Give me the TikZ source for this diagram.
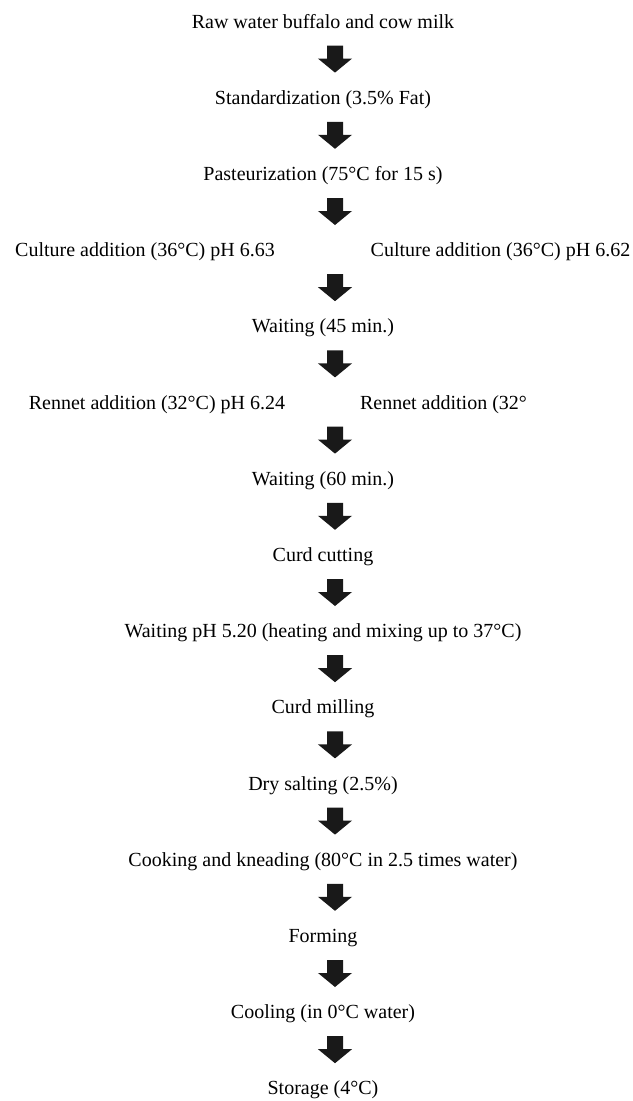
\documentclass[tikz,border=0pt]{standalone}
\usepackage{fontspec}
\setmainfont{Liberation Serif}
\usetikzlibrary{calc}
\usetikzlibrary{positioning}
\definecolor{arrowgray}{rgb}{0.1,0.1,0.1}

\begin{document}
\begin{tikzpicture}[on grid, node distance=38.1bp,
    stepnode/.style={inner sep=0pt, text height=7bp, text depth=2bp,
      font=\fontsize{10bp}{12bp}\selectfont},
    downarrow/.style={fill=arrowgray}]
  \useasboundingbox (-161.5bp,11.5bp) rectangle (155bp,-539bp);
  \node[stepnode] (raw) at (0,0) {Raw water buffalo and cow milk};
  \node[stepnode, below=of raw] (std) {Standardization (3.5\% Fat)};
  \node[stepnode, below=of std] (past) {Pasteurization (75°C for 15 s)};
  \coordinate[below=of past] (cult);
  \node[stepnode, left=89bp of cult, anchor=center] (cultL) {Culture addition (36°C) pH 6.63};
  \node[stepnode, right=88.75bp of cult, anchor=center] (cultR) {Culture addition (36°C) pH 6.62};
  \node[stepnode, below=of cult, anchor=center] (wait1) {Waiting (45 min.)};
  \coordinate[below=of wait1] (renn);
  \node[stepnode, left=83bp of renn, anchor=center] (rennL) {Rennet addition (32°C) pH 6.24};
  \node[stepnode, right=60.25bp of renn, anchor=center] (rennR) {Rennet addition (32°};
  \node[stepnode, below=of renn, anchor=center] (wait2) {Waiting (60 min.)};
  \node[stepnode, below=of wait2] (cut) {Curd cutting};
  \node[stepnode, below=of cut] (waitph) {Waiting pH 5.20 (heating and mixing up to 37°C)};
  \node[stepnode, below=of waitph] (mill) {Curd milling};
  \node[stepnode, below=of mill] (salt) {Dry salting (2.5\%)};
  \node[stepnode, below=of salt] (cook) {Cooking and kneading (80°C in 2.5 times water)};
  \node[stepnode, below=of cook] (form) {Forming};
  \node[stepnode, below=of form] (cool) {Cooling (in 0°C water)};
  \node[stepnode, below=of cool] (store) {Storage (4°C)};
  % block arrows between the steps
  \foreach \a/\b in {raw/std, std/past, past/cult, cult/wait1, wait1/renn,
      renn/wait2, wait2/cut, cut/waitph, waitph/mill, mill/salt,
      salt/cook, cook/form, form/cool, cool/store}
    \fill[downarrow, shift={($(\a)!.5!(\b)$)}] (2bp,7.75bp) -- (10bp,7.75bp)
      -- (10bp,1.25bp) -- (14.5bp,1.25bp) -- (6bp,-5.75bp) -- (-2.5bp,1.25bp)
      -- (2bp,1.25bp) -- cycle;
\end{tikzpicture}
\end{document}
